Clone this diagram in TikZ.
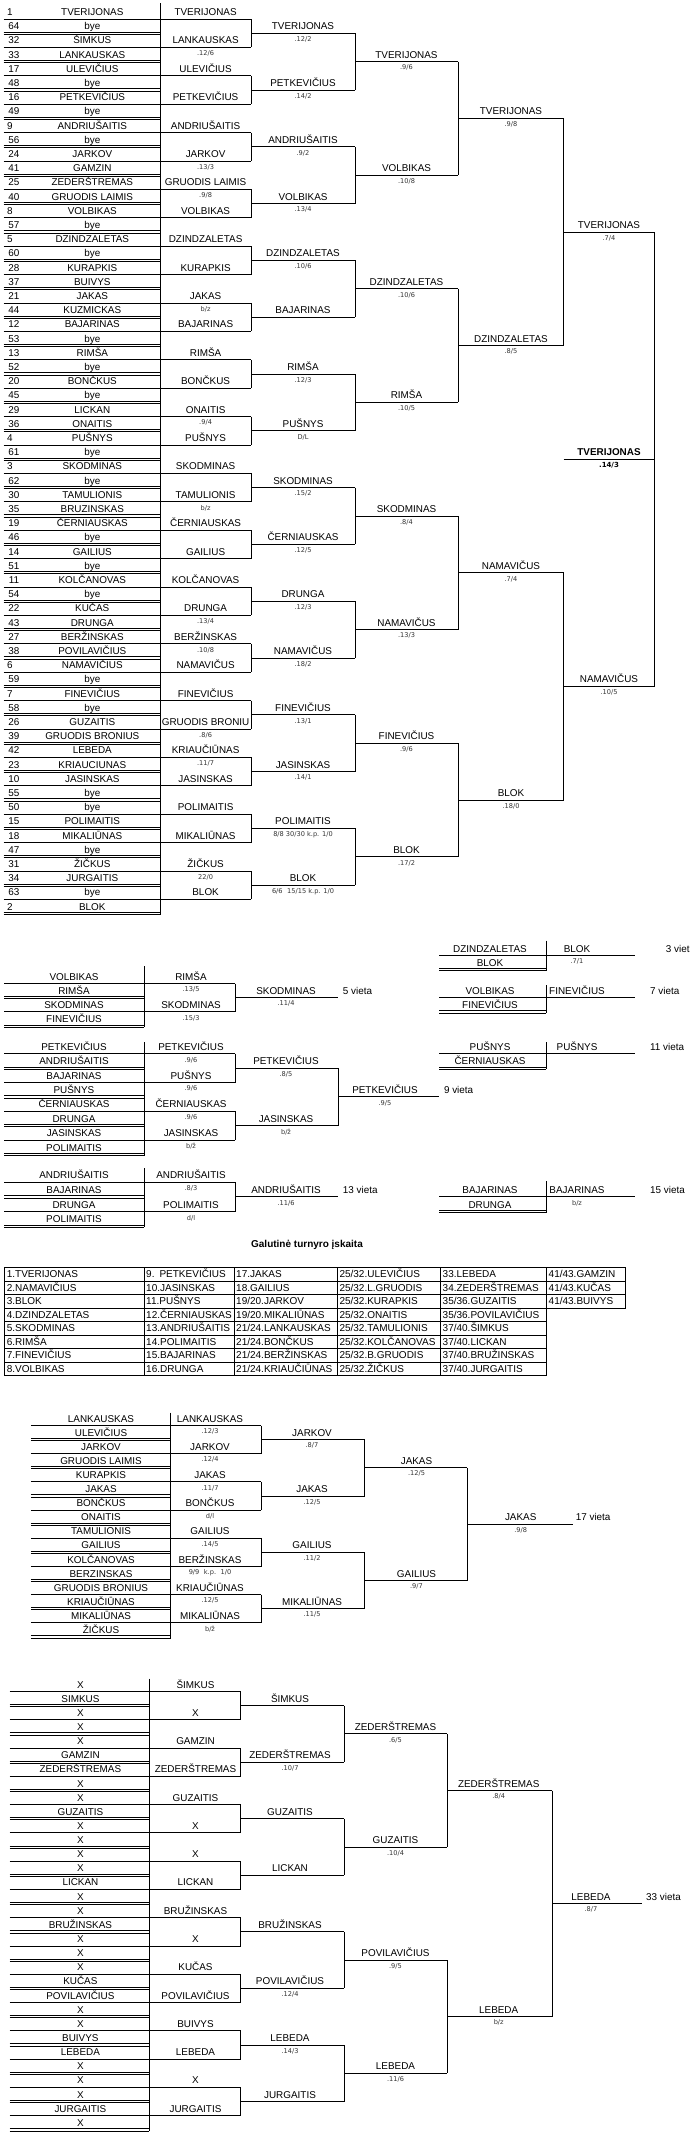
\documentclass[tikz,border=0pt]{standalone}
\usepackage{fontspec}
\setmainfont{Liberation Sans}
\newfontfamily\scfont{DejaVu Sans}
\newcommand\fnm{\fontsize{9.9}{11}\selectfont}
\newcommand\fsc{\scfont\fontsize{6.6}{7}\selectfont}
\newcommand\ftb{\fontsize{10}{12}\selectfont}
\newcounter{tn}
\tikzset{
  ln/.style={line width=0.9pt,black},
  nm/.style={font=\fnm,inner sep=0pt,anchor=base,yshift=-3.5pt},
  nmb/.style={font=\bfseries\fnm,inner sep=0pt,anchor=base,yshift=-3.5pt},
  sc/.style={font=\fsc,inner sep=0pt,anchor=base,yshift=-1pt,text=black!80},
  scb/.style={font=\scfont\bfseries\fontsize{7}{8}\selectfont,inner sep=0pt,anchor=base,yshift=-1pt},
  lb/.style={font=\fnm,inner sep=0pt,anchor=base west,yshift=-3.5pt},
  tb/.style={font=\ftb,inner sep=0pt,anchor=base west},
  ttl/.style={font=\bfseries\fontsize{10}{12}\selectfont,inner sep=0pt,anchor=base},
}
\newcommand\SetB[2]{\def\Yo{#1}\def\Pt{#2}}
\newcommand\RT[4][nm]{\pgfmathsetmacro\ry{\Yo+\Pt*(#3)}\stepcounter{tn}\node[#1] (t\thetn) at (#2,\ry) {#4};}
\newcommand\RS[3]{\RT[sc]{#1}{#2}{#3}}
\newcommand\HL[3]{\pgfmathsetmacro\ry{\Yo+\Pt*(#3)+7}\draw[ln] (#1,\ry) -- (#2,\ry);}
\newcommand\DL[3]{\pgfmathsetmacro\ry{\Yo+\Pt*(#3)+7}\draw[ln] (#1,\ry-1.1) -- (#2,\ry-1.1) (#1,\ry+1.1) -- (#2,\ry+1.1);}
\newcommand\VL[3]{\pgfmathsetmacro\ya{\Yo+\Pt*(#2)+7}\pgfmathsetmacro\yb{\Yo+\Pt*(#3)+7}\draw[ln] (#1,\ya) -- (#1,\yb);}
\newcommand\VT[3]{\pgfmathsetmacro\yb{\Yo+\Pt*(#3)+8.1}\draw[ln] (#1,#2) -- (#1,\yb);}
\newcommand\Players[4]{%
  \foreach \n [count=\r from 0] in {#4} {%
    \RT{#3}{\r}{\n}%
    \ifodd\r\relax\DL{#1}{#2}{\r}\else\HL{#1}{#2}{\r}\fi
  }}
\newcommand\Level[6]{%
  \foreach \n [count=\k from 0] in {#5} {%
    \pgfmathtruncatemacro\r{2^(#1)*\k+2^(#1-1)-1}%
    \RT{#4}{\r}{\n}%
    \HL{#2}{#3}{\r}%
    \ifnum#6=1 \ifodd\k\relax\else\VL{#3}{\r}{\r+2^(#1)}\fi\fi
  }}
\newcommand\TB[3]{\pgfmathsetmacro\ry{1267.7+13.47*(#2)+6.7+3.5}\stepcounter{tn}\node[tb] (t\thetn) at (#1,\ry) {#3};}
\begin{document}
\begin{tikzpicture}[x=1pt,y=-1pt]
\fill[white] (0,0) rectangle (689,2145);
\useasboundingbox (0,0) rectangle (689,2145);
% ================= main bracket =================
\SetB{12}{14.2}
\draw[ln] (160.4,3) -- (160.4,914.6);
\foreach \s/\n [count=\r from 0] in {1/TVERIJONAS,64/bye,32/ŠIMKUS,33/LANKAUSKAS,17/ULEVIČIUS,48/bye,16/PETKEVIČIUS,49/bye,9/ANDRIUŠAITIS,56/bye,24/JARKOV,41/GAMZIN,25/ZEDERŠTREMAS,40/GRUODIS LAIMIS,8/VOLBIKAS,57/bye,5/DZINDZALETAS,60/bye,28/KURAPKIS,37/BUIVYS,21/JAKAS,44/KUZMICKAS,12/BAJARINAS,53/bye,13/RIMŠA,52/bye,20/BONČKUS,45/bye,29/LICKAN,36/ONAITIS,4/PUŠNYS,61/bye,3/SKODMINAS,62/bye,30/TAMULIONIS,35/BRUZINSKAS,19/ČERNIAUSKAS,46/bye,14/GAILIUS,51/bye,11/KOLČANOVAS,54/bye,22/KUČAS,43/DRUNGA,27/BERŽINSKAS,38/POVILAVIČIUS,6/NAMAVIČIUS,59/bye,7/FINEVIČIUS,58/bye,26/GUZAITIS,39/GRUODIS BRONIUS,42/LEBEDA,23/KRIAUCIUNAS,10/JASINSKAS,55/bye,50/bye,15/POLIMAITIS,18/MIKALIŪNAS,47/bye,31/ŽIČKUS,34/JURGAITIS,63/bye,2/BLOK} {%
  \RT{92.3}{\r}{\n}%
  \pgfmathsetmacro\sx{ifthenelse(\s<10,10,14)}%
  \RT{\sx}{\r}{\s}%
  \ifodd\r\relax\DL{3.5}{160.4}{\r}\else\HL{3.5}{160.4}{\r}\fi
}
\Level{1}{160.4}{251.3}{205.6}{TVERIJONAS,LANKAUSKAS,ULEVIČIUS,PETKEVIČIUS,ANDRIUŠAITIS,JARKOV,GRUODIS LAIMIS,VOLBIKAS,DZINDZALETAS,KURAPKIS,JAKAS,BAJARINAS,RIMŠA,BONČKUS,ONAITIS,PUŠNYS,SKODMINAS,TAMULIONIS,ČERNIAUSKAS,GAILIUS,KOLČANOVAS,DRUNGA,BERŽINSKAS,NAMAVIČUS,FINEVIČIUS,GRUODIS BRONIU,KRIAUČIŪNAS,JASINSKAS,POLIMAITIS,MIKALIŪNAS,ŽIČKUS,BLOK}{1}
\RS{205.6}{3}{.12/6}\RS{205.6}{11}{.13/3}\RS{205.6}{13}{.9/8}\RS{205.6}{21}{b/z}
\RS{205.6}{29}{.9/4}\RS{205.6}{35}{b/z}\RS{205.6}{43}{.13/4}\RS{205.6}{45}{.10/8}
\RS{205.6}{51}{.8/6}\RS{205.6}{53}{.11/7}\RS{205.6}{61}{22/0}
\Level{2}{251.3}{355}{303}{TVERIJONAS,PETKEVIČIUS,ANDRIUŠAITIS,VOLBIKAS,DZINDZALETAS,BAJARINAS,RIMŠA,PUŠNYS,SKODMINAS,ČERNIAUSKAS,DRUNGA,NAMAVIČUS,FINEVIČIUS,JASINSKAS,POLIMAITIS,BLOK}{1}
\RS{303}{2}{.12/2}\RS{303}{6}{.14/2}\RS{303}{10}{.9/2}\RS{303}{14}{.13/4}
\RS{303}{18}{.10/6}\RS{303}{26}{.12/3}\RS{303}{30}{D/L}\RS{303}{34}{.15/2}
\RS{303}{38}{.12/5}\RS{303}{42}{.12/3}\RS{303}{46}{.18/2}\RS{303}{50}{.13/1}
\RS{303}{54}{.14/1}\RS{303}{58}{8/8 30/30 k.p. 1/0}\RS{303}{62}{6/6\hspace{2.5pt} 15/15 k.p. 1/0}
\Level{3}{355}{458.3}{406.5}{TVERIJONAS,VOLBIKAS,DZINDZALETAS,RIMŠA,SKODMINAS,NAMAVIČUS,FINEVIČIUS,BLOK}{1}
\RS{406.5}{4}{.9/6}\RS{406.5}{12}{.10/8}\RS{406.5}{20}{.10/6}\RS{406.5}{28}{.10/5}
\RS{406.5}{36}{.8/4}\RS{406.5}{44}{.13/3}\RS{406.5}{52}{.9/6}\RS{406.5}{60}{.17/2}
\Level{4}{458.3}{563.7}{511}{TVERIJONAS,DZINDZALETAS,NAMAVIČUS,BLOK}{1}
\RS{511}{8}{.9/8}\RS{511}{24}{.8/5}\RS{511}{40}{.7/4}\RS{511}{56}{.18/0}
\Level{5}{563.7}{654.7}{609}{TVERIJONAS,NAMAVIČUS}{1}
\RS{609}{16}{.7/4}\RS{609}{48}{.10/5}
\RT[nmb]{609}{31}{TVERIJONAS}\HL{563.7}{654.7}{31}\RT[scb]{609}{32}{.14/3}
% ================= 5 vieta =================
\SetB{976.5}{14.2}
\VT{144.1}{966}{3}
\Players{4.4}{144.1}{74}{VOLBIKAS,RIMŠA,SKODMINAS,FINEVIČIUS}
\Level{1}{144.1}{235.1}{191}{RIMŠA,SKODMINAS}{1}
\RS{191}{1}{.13/5}\RS{191}{3}{.15/3}
\Level{2}{235.1}{338.3}{286}{SKODMINAS}{0}
\RS{286}{2}{.11/4}
\RT[lb]{342.7}{1}{5 vieta}
% ================= 9 vieta =================
\SetB{1046.7}{14.4}
\VT{144.1}{1042}{7}
\Players{4.4}{144.1}{74}{PETKEVIČIUS,ANDRIUŠAITIS,BAJARINAS,PUŠNYS,ČERNIAUSKAS,DRUNGA,JASINSKAS,POLIMAITIS}
\Level{1}{144.1}{235.1}{191}{PETKEVIČIUS,PUŠNYS,ČERNIAUSKAS,JASINSKAS}{1}
\RS{191}{1}{.9/6}\RS{191}{3}{.9/6}\RS{191}{5}{.9/6}\RS{191}{7}{b/ž}
\Level{2}{235.1}{338.3}{286}{PETKEVIČIUS,JASINSKAS}{1}
\RS{286}{2}{.8/5}\RS{286}{6}{b/ž}
\Level{3}{338.3}{439.4}{385}{PETKEVIČIUS}{0}
\RS{385}{4}{.9/5}
\RT[lb]{443.8}{3}{9 vieta}
% ================= 13 vieta =================
\SetB{1175.2}{14.7}
\VT{144.1}{1168}{3}
\Players{4.4}{144.1}{74}{ANDRIUŠAITIS,BAJARINAS,DRUNGA,POLIMAITIS}
\Level{1}{144.1}{235.1}{191}{ANDRIUŠAITIS,POLIMAITIS}{1}
\RS{191}{1}{.8/3}\RS{191}{3}{d/l}
\Level{2}{235.1}{338.3}{286}{ANDRIUŠAITIS}{0}
\RS{286}{2}{.11/6}
\RT[lb]{342.7}{1}{13 vieta}
% ================= right small brackets =================
\SetB{948.5}{14.2}
\Players{439.4}{546.2}{490}{DZINDZALETAS,BLOK}
\VT{546.2}{940.7}{1}
\RT{577}{0}{BLOK}\HL{546.2}{635}{0}\RS{577}{1}{.7/1}
\RT[lb]{665.7}{0}{3 vieta}
\SetB{990.7}{14.2}
\Players{439.4}{546.2}{490}{VOLBIKAS,FINEVIČIUS}
\VT{546.2}{985}{1}
\RT{577}{0}{FINEVIČIUS}\HL{546.2}{635}{0}
\RT[lb]{650}{0}{7 vieta}
\SetB{1046.7}{14.4}
\Players{439.4}{546.2}{490}{PUŠNYS,ČERNIAUSKAS}
\VT{546.2}{1042}{1}
\RT{577}{0}{PUŠNYS}\HL{546.2}{635}{0}
\RT[lb]{650}{0}{11 vieta}
\SetB{1189.9}{14.7}
\Players{439.4}{546.2}{490}{BAJARINAS,DRUNGA}
\VT{546.2}{1181}{1}
\RT{577}{0}{BAJARINAS}\HL{546.2}{635}{0}\RS{577}{1}{b/z}
\RT[lb]{650}{0}{15 vieta}
% ================= title & table =================
\node[ttl] (title) at (307,1247.6) {Galutinė turnyro įskaita};
\draw[ln] (4.4,1267.7) rectangle (546.2,1375.5);
\foreach \k in {1,...,7} {\pgfmathsetmacro\ry{1267.7+13.47*\k}\draw[ln] (4.4,\ry) -- (546.2,\ry);}
\foreach \xx in {144.1,234.2,337.5,440.7} {\draw[ln] (\xx,1267.7) -- (\xx,1375.5);}
\draw[ln] (546.2,1267.7) -- (625.3,1267.7) -- (625.3,1308.1) -- (546.2,1308.1);
\draw[ln] (546.2,1281.2) -- (625.3,1281.2) (546.2,1294.6) -- (625.3,1294.6);
\foreach \t [count=\k from 0] in {1.TVERIJONAS,2.NAMAVIČIUS,3.BLOK,4.DZINDZALETAS,5.SKODMINAS,6.RIMŠA,7.FINEVIČIUS,8.VOLBIKAS} {\TB{6.6}{\k}{\t}}
\foreach \t [count=\k from 0] in {9.\hspace{5pt}PETKEVIČIUS,10.JASINSKAS,11.PUŠNYS,12.ČERNIAUSKAS,13.ANDRIUŠAITIS,14.POLIMAITIS,15.BAJARINAS,16.DRUNGA} {\TB{146}{\k}{\t}}
\foreach \t [count=\k from 0] in {17.JAKAS,18.GAILIUS,19/20.JARKOV,19/20.MIKALIŪNAS,21/24.LANKAUSKAS,21/24.BONČKUS,21/24.BERŽINSKAS,21/24.KRIAUČIŪNAS} {\TB{236}{\k}{\t}}
\foreach \t [count=\k from 0] in {25/32.ULEVIČIUS,25/32.L.GRUODIS,25/32.KURAPKIS,25/32.ONAITIS,25/32.TAMULIONIS,25/32.KOLČANOVAS,25/32.B.GRUODIS,25/32.ŽIČKUS} {\TB{339.3}{\k}{\t}}
\foreach \t [count=\k from 0] in {33.LEBEDA,34.ZEDERŠTREMAS,35/36.GUZAITIS,35/36.POVILAVIČIUS,37/40.ŠIMKUS,37/40.LICKAN,37/40.BRUŽINSKAS,37/40.JURGAITIS} {\TB{442.5}{\k}{\t}}
\foreach \t [count=\k from 0] in {41/43.GAMZIN,41/43.KUČAS,41/43.BUIVYS} {\TB{548.5}{\k}{\t}}
% ================= 17 vieta =================
\SetB{1418.5}{14.1}
\VT{170.5}{1412.7}{15}
\Players{30.8}{170.5}{101}{LANKAUSKAS,ULEVIČIUS,JARKOV,GRUODIS LAIMIS,KURAPKIS,JAKAS,BONČKUS,ONAITIS,TAMULIONIS,GAILIUS,KOLČANOVAS,BERZINSKAS,GRUODIS BRONIUS,KRIAUČIŪNAS,MIKALIŪNAS,ŽIČKUS}
\Level{1}{170.5}{261.4}{210}{LANKAUSKAS,JARKOV,JAKAS,BONČKUS,GAILIUS,BERŽINSKAS,KRIAUČIŪNAS,MIKALIŪNAS}{1}
\RS{210}{1}{.12/3}\RS{210}{3}{.12/4}\RS{210}{5}{.11/7}\RS{210}{7}{d/l}
\RS{210}{9}{.14/5}\RS{210}{11}{9/9\hspace{4.5pt}k.p.\hspace{4.5pt}1/0}\RS{210}{13}{.12/5}\RS{210}{15}{b/ž}
\Level{2}{261.4}{364.7}{312}{JARKOV,JAKAS,GAILIUS,MIKALIŪNAS}{1}
\RS{312}{2}{.8/7}\RS{312}{6}{.12/5}\RS{312}{10}{.11/2}\RS{312}{14}{.11/5}
\Level{3}{364.7}{467}{416.5}{JAKAS,GAILIUS}{1}
\RS{416.5}{4}{.12/5}\RS{416.5}{12}{.9/7}
\Level{4}{467}{573.4}{520.7}{JAKAS}{0}
\RS{520.7}{8}{.9/8}
\RT[lb]{575.6}{7}{17 vieta}
% ================= 33 vieta =================
\SetB{1684.5}{14.14}
\VT{149.4}{1678.7}{31}
\Players{9.7}{149.4}{80.4}{X,SIMKUS,X,X,X,GAMZIN,ZEDERŠTREMAS,X,X,GUZAITIS,X,X,X,X,LICKAN,X,X,BRUŽINSKAS,X,X,X,KUČAS,POVILAVIČIUS,X,X,BUIVYS,LEBEDA,X,X,X,JURGAITIS,X}
\Level{1}{149.4}{240.8}{195.5}{ŠIMKUS,X,GAMZIN,ZEDERŠTREMAS,GUZAITIS,X,X,LICKAN,BRUŽINSKAS,X,KUČAS,POVILAVIČIUS,BUIVYS,LEBEDA,X,JURGAITIS}{1}
\Level{2}{240.8}{344}{290}{ŠIMKUS,ZEDERŠTREMAS,GUZAITIS,LICKAN,BRUŽINSKAS,POVILAVIČIUS,LEBEDA,JURGAITIS}{1}
\RS{290}{6}{.10/7}\RS{290}{22}{.12/4}\RS{290}{26}{.14/3}
\Level{3}{344}{447.3}{395.5}{ZEDERŠTREMAS,GUZAITIS,POVILAVIČIUS,LEBEDA}{1}
\RS{395.5}{4}{.6/5}\RS{395.5}{12}{.10/4}\RS{395.5}{20}{.9/5}\RS{395.5}{28}{.11/6}
\Level{4}{447.3}{552.3}{498.7}{ZEDERŠTREMAS,LEBEDA}{1}
\RS{498.7}{8}{.8/4}\RS{498.7}{24}{b/z}
\Level{5}{552.3}{641.5}{591}{LEBEDA}{0}
\RS{591}{16}{.8/7}
\RT[lb]{646}{15}{33 vieta}
\end{tikzpicture}
\end{document}
